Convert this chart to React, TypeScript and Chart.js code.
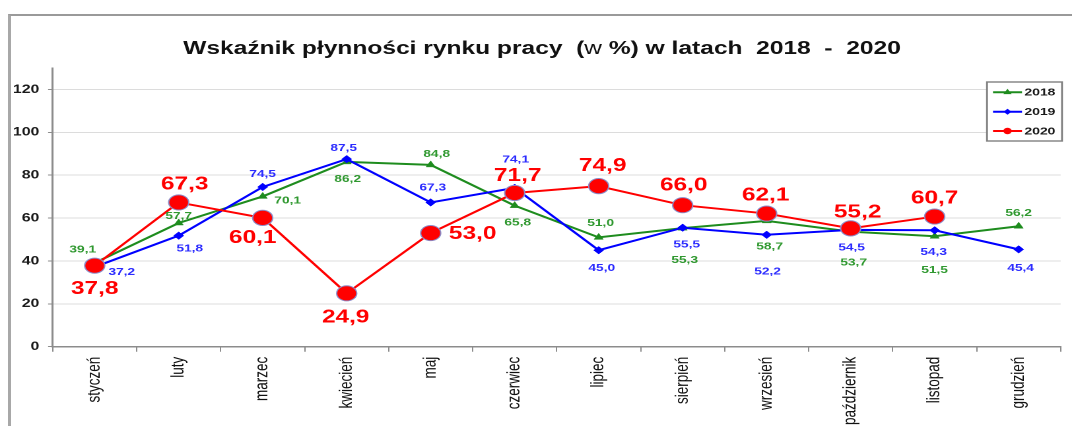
import React, { useEffect, useRef } from 'react';
import { Chart, registerables } from 'chart.js';

Chart.register(...registerables);

// ---------- data ----------
const months = ['styczeń', 'luty', 'marzec', 'kwiecień', 'maj', 'czerwiec', 'lipiec', 'sierpień', 'wrzesień', 'październik', 'listopad', 'grudzień'];
const values2018 = [39.1, 57.7, 70.1, 86.2, 84.8, 65.8, 51.0, 55.3, 58.7, 53.7, 51.5, 56.2];
const values2019 = [37.2, 51.8, 74.5, 87.5, 67.3, 74.1, 45.0, 55.5, 52.2, 54.5, 54.3, 45.4];
const values2020 = [37.8, 67.3, 60.1, 24.9, 53.0, 71.7, 74.9, 66.0, 62.1, 55.2, 60.7, null];
const seriesNames = ['2018', '2019', '2020'];
const yTickValues = [0, 20, 40, 60, 80, 100, 120];
const titleBold1 = 'Wskaźnik płynności rynku pracy  (';
const titleRegular = 'w';
const titleBold2 = ' %) w latach  2018  -  2020';

// value-label placement relative to the point (screen px)
const labelOffsets2018 = [[-12, -13], [0, -7], [25, 4], [1, 17], [6, -11], [3, 17], [2, -14], [2, 32], [3, 26], [3, 31], [0, 34], [0, -13]];
const labelOffsets2019 = [[27, 5], [11, 13], [0, -13], [-3, -11], [2, -15], [1, -28], [3, 18], [4, 17], [1, 37], [1, 18], [-1, 22], [2, 19]];
const labelOffsets2020 = [[0, 23], [6, -18], [-10, 20], [-1, 24], [42, 1], [3, -17], [4, -20], [1, -20], [-1, -18], [7, -16], [0, -18], [0, 0]];

// ---------- geometry (the source picture is horizontally stretched) ----------
const SCREEN_W = 1072;
const SCREEN_H = 426;
const LOGICAL_W = 812;
const SX = SCREEN_W / LOGICAL_W;
const FONT = "'Liberation Sans', Arial, sans-serif";

const COLORS = {
  green: '#1e8c1e',
  greenLabel: '#2f982f',
  blue: '#0000ff',
  blueLabel: '#2b2bff',
  red: '#ff0000',
  grid: '#dcdcdc',
  axis: '#8c8c8c',
};

const fmt = (v: number) => v.toFixed(1).replace('.', ',');

const labelsPlugin = {
  id: 'valueLabels',
  afterDatasetsDraw(chart: any) {
    const ctx = chart.ctx;
    const conf = [
      { offs: labelOffsets2018, color: COLORS.greenLabel, font: `bold 10.4px ${FONT}` },
      { offs: labelOffsets2019, color: COLORS.blueLabel, font: `bold 10.4px ${FONT}` },
      { offs: labelOffsets2020, color: COLORS.red, font: `bold 18.5px ${FONT}` },
    ];
    ctx.save();
    ctx.textAlign = 'center';
    ctx.textBaseline = 'middle';
    chart.data.datasets.forEach((ds: any, di: number) => {
      const meta = chart.getDatasetMeta(di);
      const c = conf[di];
      ctx.fillStyle = c.color;
      ctx.font = c.font;
      meta.data.forEach((el: any, i: number) => {
        const v = ds.data[i];
        if (v === null || v === undefined) return;
        const [dx, dy] = c.offs[i];
        ctx.fillText(fmt(v), el.x + dx / SX, el.y + dy);
      });
    });
    ctx.restore();
  },
};

const titlePlugin = {
  id: 'customTitle',
  afterDraw(chart: any) {
    const ctx = chart.ctx;
    ctx.save();
    ctx.fillStyle = '#111';
    ctx.textBaseline = 'alphabetic';
    ctx.textAlign = 'left';
    const bold = `bold 18.6px ${FONT}`;
    const reg = `18.6px ${FONT}`;
    ctx.font = bold;
    const w1 = ctx.measureText(titleBold1).width;
    const w3 = ctx.measureText(titleBold2).width;
    ctx.font = reg;
    const w2 = ctx.measureText(titleRegular).width;
    const total = w1 + w2 + w3;
    let x = 542 / SX - total / 2;
    const y = 54;
    ctx.font = bold;
    ctx.fillText(titleBold1, x, y);
    x += w1;
    ctx.font = reg;
    ctx.fillText(titleRegular, x, y);
    x += w2;
    ctx.font = bold;
    ctx.fillText(titleBold2, x, y);
    ctx.restore();
  },
};

const legendPlugin = {
  id: 'customLegend',
  afterDraw(chart: any) {
    const ctx = chart.ctx;
    const x0 = 987 / SX;
    const x1 = 1062 / SX;
    const y0 = 82;
    const y1 = 141;
    ctx.save();
    ctx.fillStyle = '#ffffff';
    ctx.fillRect(x0, y0, x1 - x0, y1 - y0);
    ctx.strokeStyle = '#808080';
    ctx.lineWidth = 1.4;
    ctx.strokeRect(x0, y0, x1 - x0, y1 - y0);
    const rows = [92.3, 111.7, 131];
    const colors = [COLORS.green, COLORS.blue, COLORS.red];
    const lx0 = 993 / SX;
    const lx1 = 1022 / SX;
    const mx = (lx0 + lx1) / 2;
    rows.forEach((ry, i) => {
      ctx.strokeStyle = colors[i];
      ctx.fillStyle = colors[i];
      ctx.lineWidth = 2;
      ctx.beginPath();
      ctx.moveTo(lx0, ry);
      ctx.lineTo(lx1, ry);
      ctx.stroke();
      ctx.beginPath();
      if (i === 0) {
        const r = 3.6;
        ctx.moveTo(mx, ry - r);
        ctx.lineTo(mx + 0.866 * r, ry + r / 2);
        ctx.lineTo(mx - 0.866 * r, ry + r / 2);
        ctx.closePath();
      } else if (i === 1) {
        const r = 3;
        ctx.moveTo(mx - r, ry);
        ctx.lineTo(mx, ry - r);
        ctx.lineTo(mx + r, ry);
        ctx.lineTo(mx, ry + r);
        ctx.closePath();
      } else {
        ctx.arc(mx, ry, 3.2, 0, Math.PI * 2);
      }
      ctx.fill();
      ctx.fillStyle = '#1a1a1a';
      ctx.font = `bold 10.5px ${FONT}`;
      ctx.textAlign = 'left';
      ctx.textBaseline = 'middle';
      ctx.fillText(seriesNames[i], 1024.5 / SX, ry + 0.5);
    });
    ctx.restore();
  },
};

export default function App() {
  const canvasRef = useRef<HTMLCanvasElement | null>(null);

  useEffect(() => {
    const canvas = canvasRef.current;
    if (!canvas) return;
    canvas.width = LOGICAL_W;
    canvas.height = SCREEN_H;
    const chart = new Chart(canvas, {
      type: 'line',
      data: {
        labels: months,
        datasets: [
          {
            label: seriesNames[0],
            data: values2018,
            borderColor: COLORS.green,
            backgroundColor: COLORS.green,
            borderWidth: 2,
            pointStyle: 'triangle',
            pointRadius: 4,
            pointBackgroundColor: COLORS.green,
            pointBorderColor: COLORS.green,
            pointBorderWidth: 0.5,
            tension: 0,
            order: 3,
          },
          {
            label: seriesNames[1],
            data: values2019,
            borderColor: COLORS.blue,
            backgroundColor: COLORS.blue,
            borderWidth: 2,
            pointStyle: 'rectRot',
            pointRadius: 3.8,
            pointBackgroundColor: COLORS.blue,
            pointBorderColor: COLORS.blue,
            pointBorderWidth: 0.5,
            tension: 0,
            order: 2,
          },
          {
            label: seriesNames[2],
            data: values2020,
            borderColor: COLORS.red,
            backgroundColor: COLORS.red,
            borderWidth: 2,
            pointStyle: 'circle',
            pointRadius: 7.6,
            pointBackgroundColor: COLORS.red,
            pointBorderColor: '#8c8cc8',
            pointBorderWidth: 1,
            tension: 0,
            order: 1,
          },
        ],
      },
      options: {
        responsive: false,
        animation: false,
        devicePixelRatio: 2,
        events: [],
        layout: { padding: { top: 68, right: 2.8, left: 0, bottom: 0 } },
        plugins: {
          legend: { display: false },
          title: { display: false },
          tooltip: { enabled: false },
        },
        scales: {
          x: {
            type: 'category',
            offset: true,
            grid: {
              offset: true,
              drawOnChartArea: false,
              drawTicks: true,
              tickLength: 5,
              tickColor: COLORS.axis,
              tickWidth: 1,
            },
            border: { color: COLORS.axis, width: 1.5 },
            ticks: {
              autoSkip: false,
              minRotation: 90,
              maxRotation: 90,
              padding: 5,
              color: '#111',
              font: { family: FONT, size: 13.5 },
            },
            afterFit: (scale: any) => {
              scale.height = SCREEN_H - 346.7;
            },
          },
          y: {
            min: 0,
            max: 130,
            ticks: {
              stepSize: 20,
              padding: 6.6,
              color: '#1a1a1a',
              font: { family: FONT, size: 12, weight: 'bold' },
            },
            afterBuildTicks: (scale: any) => {
              scale.ticks = yTickValues.map((v) => ({ value: v }));
            },
            grid: {
              color: COLORS.grid,
              lineWidth: 1,
              drawTicks: true,
              tickLength: 3.5,
              tickColor: COLORS.axis,
            },
            border: { color: COLORS.axis, width: 1.5 },
            afterFit: (scale: any) => {
              scale.width = 52.7 / SX;
            },
          },
        },
      },
      plugins: [labelsPlugin, titlePlugin, legendPlugin],
    } as any);
    return () => chart.destroy();
  }, []);

  return (
    <div style={{ position: 'absolute', left: 0, top: 0, width: SCREEN_W, height: SCREEN_H, overflow: 'hidden', background: '#fff' }}>
      <div
        style={{
          position: 'absolute',
          left: 8,
          top: 14,
          width: SCREEN_W + 20,
          height: SCREEN_H + 20,
          borderTop: '2px solid #9a9a9a',
          borderLeft: '3px solid #a8a8a8',
          boxSizing: 'border-box',
        }}
      />
      <canvas
        ref={canvasRef}
        width={LOGICAL_W}
        height={SCREEN_H}
        style={{ position: 'absolute', left: 0, top: 0, width: SCREEN_W + 'px', height: SCREEN_H + 'px', display: 'block' }}
      />
    </div>
  );
}
